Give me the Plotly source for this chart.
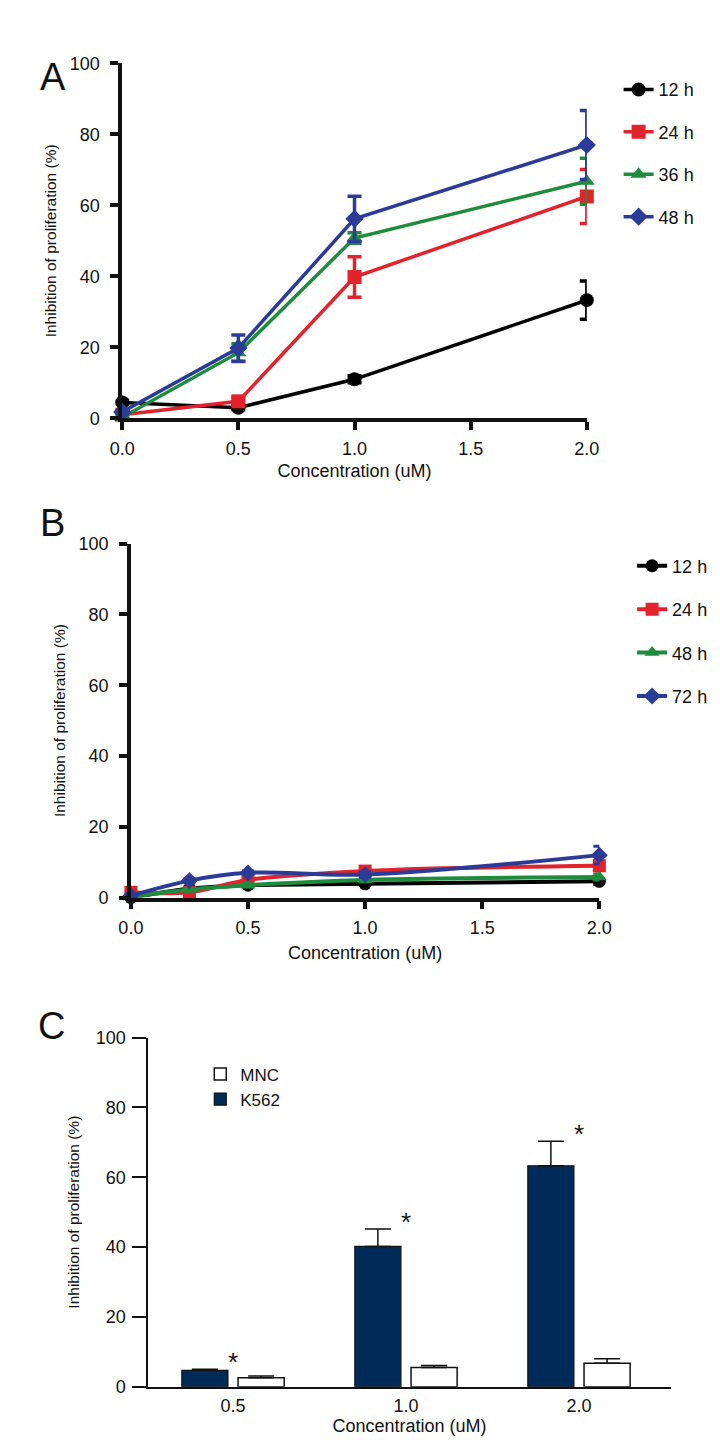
import plotly.graph_objects as go

FONT = "Liberation Sans, Arial, sans-serif"

# ---------------- Panel A data ----------------
conc_a = [0.0, 0.5, 1.0, 2.0]
a_labels = ["12 h", "24 h", "36 h", "48 h"]
a_12h = [4.5, 3.0, 11.0, 33.3]
a_12h_err = [0.6, 0.6, 1.0, 5.4]
a_24h = [1.0, 4.8, 39.8, 62.5]
a_24h_err = [0.5, 1.0, 5.7, 7.6]
a_36h = [0.3, 18.5, 50.8, 66.8]
a_36h_err = [0.3, 2.5, 1.5, 6.5]
a_48h = [1.8, 19.8, 56.2, 77.0]
a_48h_err = [0.5, 3.7, 6.4, 9.7]

# ---------------- Panel B data ----------------
conc_b = [0.0, 0.25, 0.5, 1.0, 2.0]
b_labels = ["12 h", "24 h", "48 h", "72 h"]
b_12h = [0.0, 2.5, 3.5, 3.9, 4.6]
b_12h_err = [0.3, 0.3, 0.3, 0.5, 0.8]
b_24h = [1.5, 1.5, 5.0, 7.5, 9.0]
b_24h_err = [0.5, 0.5, 0.5, 0.8, 1.5]
b_48h = [0.2, 2.3, 3.5, 5.0, 5.8]
b_48h_err = [0.3, 0.3, 0.4, 0.5, 0.8]
b_72h = [0.5, 4.8, 7.0, 6.5, 12.0]
b_72h_err = [0.3, 0.5, 0.5, 0.8, 2.5]

# ---------------- Panel C data ----------------
conc_c = ["0.5", "1.0", "2.0"]
k562 = [4.7, 40.2, 63.3]
k562_err = [0.3, 5.0, 7.0]
mnc = [2.6, 5.5, 6.7]
mnc_err = [0.5, 0.6, 1.3]

colors = ["#000000", "#e3232c", "#1d8c3c", "#2a3c98"]
symbols = ["circle", "square", "triangle-up", "diamond"]

W, H = 720, 1440
def px_x(p):
    return p / W
def px_y(p):
    return 1 - p / H

fig = go.Figure()

# Panel A traces
for name, ys, es, c, s in zip(a_labels, [a_12h, a_24h, a_36h, a_48h],
                              [a_12h_err, a_24h_err, a_36h_err, a_48h_err], colors, symbols):
    fig.add_trace(go.Scatter(
        x=conc_a, y=ys, mode="lines+markers", name=name,
        line=dict(color=c, width=3.5),
        marker=dict(color=c, symbol=s, size=14),
        error_y=dict(type="data", array=es, color=c, thickness=3.5, width=7),
        cliponaxis=False, xaxis="x", yaxis="y", legend="legend",
        legendgroup="a" + name,
    ))

# Panel B traces
for name, ys, es, c, s in zip(b_labels, [b_12h, b_24h, b_48h, b_72h],
                              [b_12h_err, b_24h_err, b_48h_err, b_72h_err], colors, symbols):
    fig.add_trace(go.Scatter(
        x=conc_b, y=ys, mode="lines+markers", name=name,
        line=dict(color=c, width=4, shape="spline", smoothing=1.0),
        marker=dict(color=c, symbol=s, size=13),
        error_y=dict(type="data", array=es, color=c, thickness=3, width=6),
        cliponaxis=False, xaxis="x2", yaxis="y2", legend="legend2",
        legendgroup="b" + name,
    ))

# Panel C traces
fig.add_trace(go.Bar(
    x=conc_c, y=k562, name="K562",
    marker=dict(color="#002b59", line=dict(color="#111111", width=1.2)),
    error_y=dict(type="data", array=k562_err, arrayminus=[0, 0, 0], symmetric=False,
                 color="#111111", thickness=1.5, width=13),
    xaxis="x3", yaxis="y3", legend="legend3",
))
fig.add_trace(go.Bar(
    x=conc_c, y=mnc, name="MNC",
    marker=dict(color="#ffffff", line=dict(color="#111111", width=1.5)),
    error_y=dict(type="data", array=mnc_err, arrayminus=[0, 0, 0], symmetric=False,
                 color="#111111", thickness=1.5, width=13),
    xaxis="x3", yaxis="y3", legend="legend3",
))

# asterisks above K562 groups (category index positions)
for i, (v, e) in enumerate(zip(k562, k562_err)):
    fig.add_annotation(x=i, y=v + e + 2.0, xref="x3", yref="y3", text="*",
                       showarrow=False, font=dict(size=26, color="#111111", family=FONT),
                       yanchor="middle")

title_font = dict(size=18, color="#111111", family=FONT)
ytitle_font = dict(size=15.5, color="#111111", family=FONT)
tick_font = dict(size=18, color="#111111", family=FONT)

common_line = dict(showline=True, linecolor="#111111", linewidth=3.5, ticks="outside",
                   tickwidth=3.5, ticklen=8, tickcolor="#111111", showgrid=False,
                   zeroline=False, tickfont=tick_font)

fig.update_layout(
    width=W, height=H, margin=dict(l=0, r=0, t=0, b=0),
    paper_bgcolor="white", plot_bgcolor="white",
    font=dict(family=FONT, color="#111111"),
    barmode="group", bargap=0.35, bargroupgap=0.18,
    xaxis=dict(domain=[px_x(105), px_x(587)], range=[0, 2], anchor="y",
               tickvals=[0, 0.5, 1.0, 1.5, 2.0], ticktext=["0.0", "0.5", "1.0", "1.5", "2.0"],
               title=dict(text="Concentration (uM)", font=title_font, standoff=8),
               ticklabelstandoff=3, **common_line),
    yaxis=dict(domain=[px_y(406), px_y(46)], range=[0, 100], anchor="x",
               tickvals=[0, 20, 40, 60, 80, 100],
               title=dict(text="Inhibition of proliferation (%)", font=ytitle_font, standoff=10),
               ticklabelstandoff=7, **common_line),
    xaxis2=dict(domain=[px_x(114), px_x(600)], range=[0, 2], anchor="y2",
                tickvals=[0, 0.5, 1.0, 1.5, 2.0], ticktext=["0.0", "0.5", "1.0", "1.5", "2.0"],
                title=dict(text="Concentration (uM)", font=title_font, standoff=10),
                ticklabelstandoff=3, **common_line),
    yaxis2=dict(domain=[px_y(892), px_y(533)], range=[0, 100], anchor="x2",
                tickvals=[0, 20, 40, 60, 80, 100],
                title=dict(text="Inhibition of proliferation (%)", font=ytitle_font, standoff=10),
                ticklabelstandoff=7, **common_line),
    xaxis3=dict(domain=[px_x(132), px_x(674)], range=[-0.49, 2.53], anchor="y3", type="category",
                showline=True, linecolor="#111111", linewidth=1.5, ticks="", showgrid=False,
                zeroline=False, tickfont=tick_font, ticklabelstandoff=2,
                title=dict(text="Concentration (uM)", font=title_font, standoff=2)),
    yaxis3=dict(domain=[px_y(1388), px_y(1034)], range=[0, 100], anchor="x3",
                tickvals=[0, 20, 40, 60, 80, 100],
                showline=True, linecolor="#111111", linewidth=1.5, ticks="outside",
                ticklen=14, tickwidth=1.5, tickcolor="#111111", showgrid=False, zeroline=False,
                tickfont=tick_font, ticklabelstandoff=3,
                title=dict(text="Inhibition of proliferation (%)", font=ytitle_font, standoff=12)),
    legend=dict(x=px_x(620), y=px_y(54), xanchor="left", yanchor="top",
                font=dict(size=18, color="#111111", family=FONT), tracegroupgap=16,
                bgcolor="rgba(0,0,0,0)"),
    legend2=dict(x=px_x(634), y=px_y(537), xanchor="left", yanchor="top",
                 font=dict(size=18, color="#111111", family=FONT), tracegroupgap=17,
                 bgcolor="rgba(0,0,0,0)"),
    legend3=dict(x=px_x(186), y=px_y(1053), xanchor="left", yanchor="top",
                 font=dict(size=17, color="#111111", family=FONT), traceorder="reversed",
                 tracegroupgap=0, bgcolor="rgba(0,0,0,0)"),
)

# panel letters
for letter, xp, yp in [("A", 33, 60), ("B", 33, 512), ("C", 32, 1022)]:
    fig.add_annotation(x=px_x(xp), y=px_y(yp), xref="paper", yref="paper", text=letter,
                       showarrow=False, font=dict(size=38, color="#111111", family=FONT),
                       xanchor="center", yanchor="middle")

fig.write_html("out.html")
